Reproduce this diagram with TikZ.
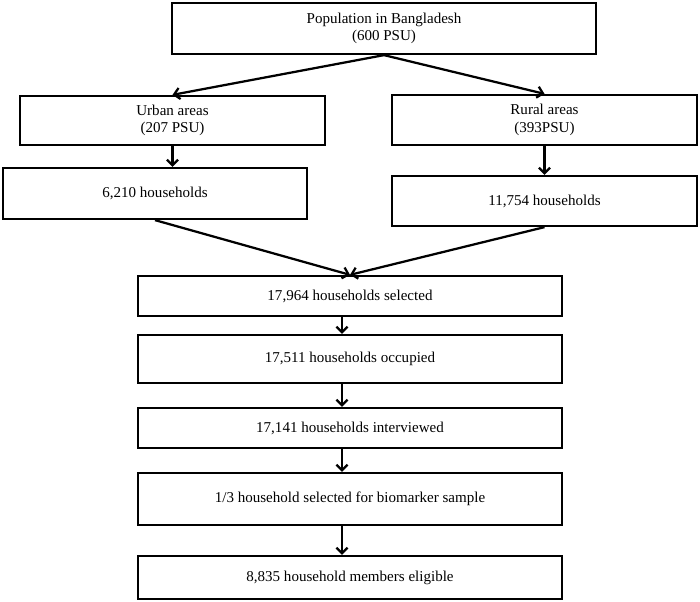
\documentclass[tikz,border=0pt]{standalone}
\usepackage{fontspec}
\setmainfont{Liberation Serif}
\usetikzlibrary{arrows.meta}

\begin{document}
\begin{tikzpicture}[x=0.025cm, y=-0.025cm, line width=1.6pt,
  every node/.style={font=\fontsize{10.7}{12.5}\selectfont},
  box/.style={draw, rectangle, align=center, inner sep=0pt},
  arr/.style={-{Straight Barb[length=4pt, width=8pt]}}]
\useasboundingbox (0,0) rectangle (700,602);

% Population
\node[box, minimum width=10.6cm, minimum height=1.275cm] (pop) at (384,28.5) {Population in Bangladesh\\(600 PSU)};

% Urban / Rural
\node[box, minimum width=7.625cm, minimum height=1.225cm] (urban) at (172.5,120.5) {Urban areas\\(207 PSU)};
\node[box, minimum width=7.625cm, minimum height=1.25cm] (rural) at (544.5,120) {Rural areas\\(393PSU)};

% Households per area
\node[box, minimum width=7.6cm, minimum height=1.275cm] (hhurban) at (155,193.5) {6,210 households};
\node[box, minimum width=7.625cm, minimum height=1.25cm] (hhrural) at (544.5,201) {11,754 households};

% Main chain
\node[box, minimum width=10.6cm, minimum height=1cm] (selected) at (350,296) {17,964 households selected};
\node[box, minimum width=10.6cm, minimum height=1.2cm] (occupied) at (350,359) {17,511 households occupied};
\node[box, minimum width=10.6cm, minimum height=1cm] (interviewed) at (350,428) {17,141 households interviewed};
\node[box, minimum width=10.6cm, minimum height=1.3cm] (biomarker) at (350,499) {1/3 household selected for biomarker sample};
\node[box, minimum width=10.6cm, minimum height=1.075cm] (eligible) at (350,577.5) {8,835 household members eligible};

\draw[arr] (pop.south) -- (urban.north);
\draw[arr] (pop.south) -- (rural.north);
\draw[arr] (urban.south) -- (urban.south |- hhurban.north);
\draw[arr] (rural.south) -- (hhrural.north);

\draw[arr] (hhurban.south) -- (selected.north);
\draw[arr] (hhrural.south) -- (selected.north);

\draw[arr] ([xshift=-2mm]selected.south) -- ([xshift=-2mm]occupied.north);
\draw[arr] ([xshift=-2mm]occupied.south) -- ([xshift=-2mm]interviewed.north);
\draw[arr] ([xshift=-2mm]interviewed.south) -- ([xshift=-2mm]biomarker.north);
\draw[arr] ([xshift=-2mm]biomarker.south) -- ([xshift=-2mm]eligible.north);
\end{tikzpicture}
\end{document}
